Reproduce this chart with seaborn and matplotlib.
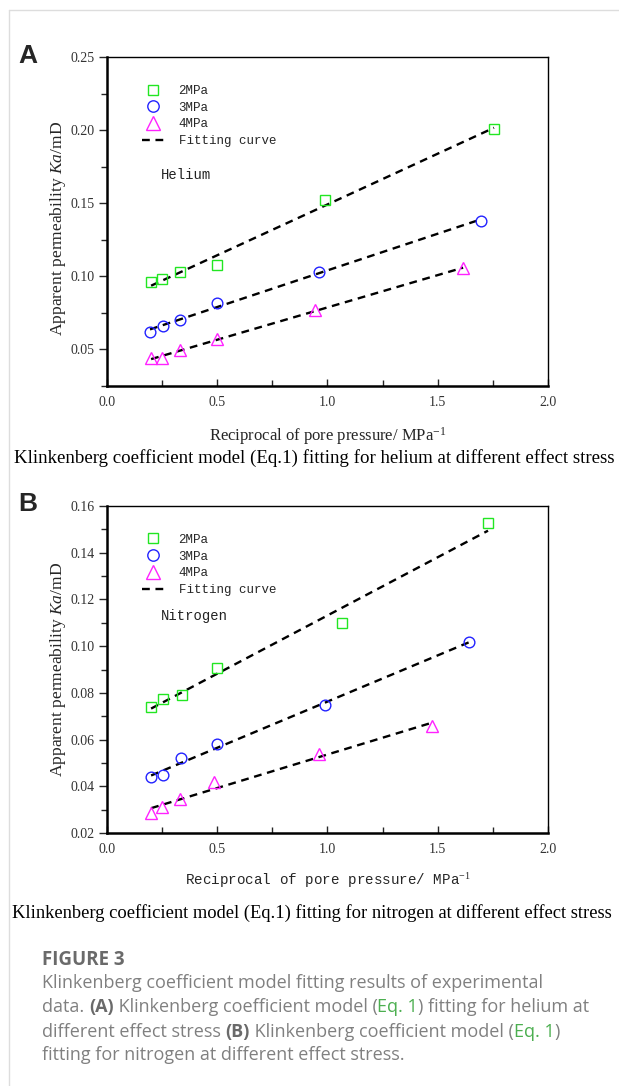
import numpy as np
import matplotlib
matplotlib.use("Agg")
import matplotlib.pyplot as plt
import matplotlib.ticker as ticker
from matplotlib.lines import Line2D
import seaborn as sns

# helium (panel A): reciprocal pore pressure vs apparent permeability
he_2_x = [0.2, 0.25, 0.333, 0.5, 0.99, 1.755]
he_2_y = [0.096, 0.098, 0.103, 0.108, 0.152, 0.201]
he_3_x = [0.195, 0.254, 0.331, 0.499, 0.961, 1.696]
he_3_y = [0.062, 0.066, 0.070, 0.082, 0.103, 0.138]
he_4_x = [0.2, 0.25, 0.333, 0.497, 0.945, 1.615]
he_4_y = [0.044, 0.044, 0.0495, 0.057, 0.077, 0.1055]

# nitrogen (panel B)
n2_2_x = [0.2, 0.252, 0.339, 0.5, 1.066, 1.728]
n2_2_y = [0.074, 0.0773, 0.0789, 0.0905, 0.110, 0.1527]
n2_3_x = [0.2, 0.252, 0.334, 0.497, 0.989, 1.642]
n2_3_y = [0.0438, 0.0449, 0.0519, 0.0579, 0.0748, 0.1018]
n2_4_x = [0.2, 0.25, 0.331, 0.487, 0.961, 1.474]
n2_4_y = [0.0286, 0.0311, 0.0345, 0.0419, 0.0538, 0.0658]

series_labels = ['2MPa', '3MPa', '4MPa']
series_colors = ['#22e622', '#2222ff', '#ff22ff']
series_markers = ['s', 'o', '^']
series_sizes = [6.6, 7.7, 8.4]
legend_sizes = [7.2, 8.2, 9.4]

W, H = 619, 1086

sns.set_style("white")
plt.rcParams['mathtext.fontset'] = 'custom'
plt.rcParams['mathtext.rm'] = 'Liberation Serif'
plt.rcParams['mathtext.it'] = 'Liberation Serif:italic'

fig = plt.figure(figsize=(W / 100, H / 100), dpi=100)

mono = 'Liberation Mono'
serif = 'Liberation Serif'
dash = (0, (3.3, 2.4))


def panel(ax, xs, ys, ylim, ystep, gas, gas_y, xlabel_font, xlabel_size):
    for x, y, c, m, s in zip(xs, ys, series_colors, series_markers, series_sizes):
        sns.regplot(x=np.array(x), y=np.array(y), ax=ax, scatter=False, ci=None,
                    line_kws=dict(color='black', lw=1.7, ls=dash))
        ax.plot(x, y, ls='none', marker=m, ms=s, mfc='none', mec=c, mew=1.0, zorder=3)

    ax.set_xlim(0, 2.0)
    ax.set_ylim(*ylim)
    ax.xaxis.set_major_locator(ticker.MultipleLocator(0.5))
    ax.xaxis.set_minor_locator(ticker.MultipleLocator(0.25))
    ax.yaxis.set_major_locator(ticker.MultipleLocator(ystep))
    ax.yaxis.set_minor_locator(ticker.MultipleLocator(ystep / 2))
    ax.xaxis.set_major_formatter(ticker.FormatStrFormatter('%.1f'))
    ax.yaxis.set_major_formatter(ticker.FormatStrFormatter('%.2f'))
    ax.tick_params(axis='x', which='major', direction='in', length=5, width=1, pad=7)
    ax.tick_params(axis='x', which='minor', direction='in', length=4, width=1)
    ax.tick_params(axis='y', which='major', direction='out', length=6, width=1, pad=3)
    ax.tick_params(axis='y', which='minor', direction='out', length=4, width=1)
    ax.tick_params(bottom=True, left=True, which='both')
    for lbl in ax.get_xticklabels() + ax.get_yticklabels():
        lbl.set_fontfamily(serif)
        lbl.set_fontsize(10)
        lbl.set_color('#333333')
    for side in ['left', 'bottom']:
        ax.spines[side].set_linewidth(1.8)
        ax.spines[side].set_color('black')
    for side in ['top', 'right']:
        ax.spines[side].set_linewidth(1.0)
        ax.spines[side].set_color('black')

    ax.set_ylabel(r'Apparent permeability $\mathit{Ka}$/mD', fontfamily=serif, fontsize=12.6)
    ax.set_xlabel(r'Reciprocal of pore pressure/ MPa$^{-1}$', fontfamily=xlabel_font, fontsize=xlabel_size)

    handles = [Line2D([], [], ls='none', marker=m, ms=s, mfc='none', mec=c, mew=1.0)
               for c, m, s in zip(series_colors, series_markers, legend_sizes)]
    handles.append(Line2D([], [], color='black', lw=1.7, ls=dash))
    ax.legend(handles, series_labels + ['Fitting curve'], loc='upper left',
              bbox_to_anchor=(0.08, 0.915), frameon=False, borderpad=0, borderaxespad=0,
              labelspacing=0.38, handlelength=1.7, handletextpad=1.2,
              prop=dict(family=mono, size=9))
    ax.text(0.122, gas_y, gas, transform=ax.transAxes, fontfamily=mono, fontsize=10,
            ha='left', va='center', color='#222222')


axA = fig.add_axes([107 / W, 1 - 386 / H, 441 / W, 329 / H])
panel(axA, [he_2_x, he_3_x, he_4_x], [he_2_y, he_3_y, he_4_y], (0.025, 0.25), 0.05,
      'Helium', 0.641, serif, 12)
axA.yaxis.set_label_coords(-0.089, 0.478)
axA.xaxis.set_label_coords(0.5, -0.12)

axB = fig.add_axes([107 / W, 1 - 833 / H, 441 / W, 327 / H])
panel(axB, [n2_2_x, n2_3_x, n2_4_x], [n2_2_y, n2_3_y, n2_4_y], (0.02, 0.16), 0.02,
      'Nitrogen', 0.664, mono, 10.25)
axB.yaxis.set_label_coords(-0.089, 0.5)
axB.xaxis.set_label_coords(0.5, -0.115)

# panel letters
fig.text(18 / W, 1 - 63 / H, 'A', fontfamily='Liberation Sans', fontweight='bold', fontsize=19)
fig.text(18 / W, 1 - 511 / H, 'B', fontfamily='Liberation Sans', fontweight='bold', fontsize=19)

# sub-captions
fig.text(14 / W, 1 - 463 / H,
         'Klinkenberg coefficient model (Eq.1) fitting for helium at different effect stress',
         fontfamily=serif, fontsize=13.6, color='black')
fig.text(12 / W, 1 - 918 / H,
         'Klinkenberg coefficient model (Eq.1) fitting for nitrogen at different effect stress',
         fontfamily=serif, fontsize=13.3, color='black')

# page border
fig.add_artist(Line2D([9 / W, 9 / W], [0, 1 - 10 / H], transform=fig.transFigure, color='#dddddd', lw=1))
fig.add_artist(Line2D([9 / W, 1], [1 - 10 / H, 1 - 10 / H], transform=fig.transFigure, color='#dddddd', lw=1))

# figure caption with mixed styles
grey = '#808080'
dark = '#6a6a6a'
green = '#4caf50'
renderer = fig.canvas.get_renderer()


def rich_line(x_px, y_px, runs, size=13):
    x = x_px
    for txt, color, weight in runs:
        t = fig.text(x / W, 1 - y_px / H, txt, color=color, fontweight=weight, fontsize=size,
                     fontfamily='Open Sans', ha='left', va='baseline')
        x += t.get_window_extent(renderer=renderer).width


rich_line(42, 965, [('FIGURE 3', dark, 'bold')], size=13.5)
rich_line(42, 988, [('Klinkenberg coefficient model fitting results of experimental', grey, 'normal')])
rich_line(42, 1012, [('data. ', grey, 'normal'), ('(A)', dark, 'bold'),
                     (' Klinkenberg coefficient model (', grey, 'normal'), ('Eq. 1', green, 'normal'),
                     (') fitting for helium at', grey, 'normal')])
rich_line(42, 1037, [('different effect stress ', grey, 'normal'), ('(B)', dark, 'bold'),
                     (' Klinkenberg coefficient model (', grey, 'normal'), ('Eq. 1', green, 'normal'),
                     (')', grey, 'normal')])
rich_line(42, 1060, [('fitting for nitrogen at different effect stress.', grey, 'normal')])

fig.savefig('out.png', dpi=100)
